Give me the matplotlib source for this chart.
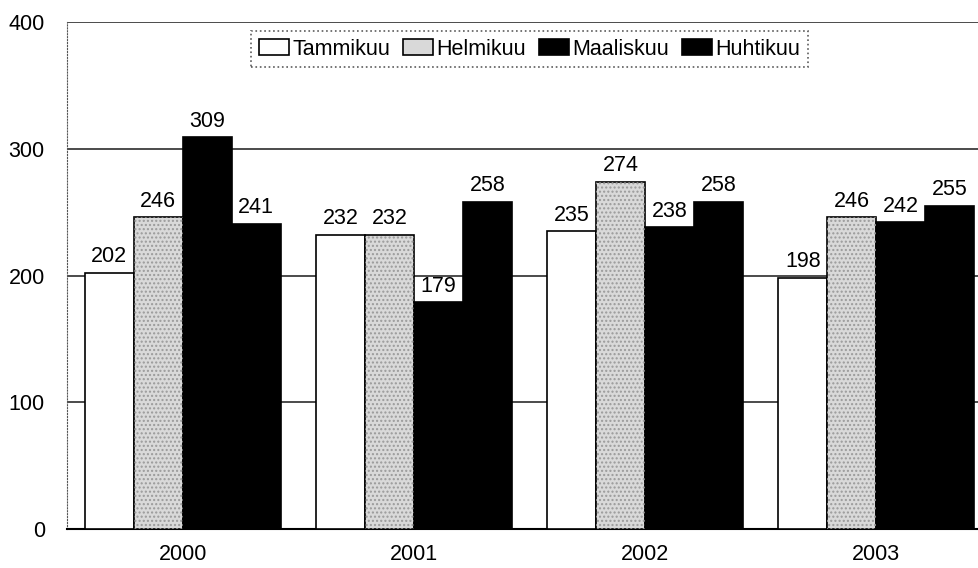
import numpy as np
import matplotlib.pyplot as plt

years = ['2000', '2001', '2002', '2003']
months = ['Tammikuu', 'Helmikuu', 'Maaliskuu', 'Huhtikuu']
tammikuu = [202, 232, 235, 198]
helmikuu = [246, 232, 274, 246]
maaliskuu = [309, 179, 238, 242]
huhtikuu = [241, 258, 258, 255]

plt.rcParams['font.family'] = ['Liberation Sans', 'DejaVu Sans']

fig = plt.figure(figsize=(9.79, 5.68), dpi=100)
# axes runs past the right edge like in the scanned original
ax = fig.add_axes([67 / 979, 39 / 568, 925 / 979, 507 / 568])

x = np.arange(len(years))
w = 0.212
series = [tammikuu, helmikuu, maaliskuu, huhtikuu]
faces = ['white', '#d9d9d9', 'black', 'black']

for i, (vals, fc, name) in enumerate(zip(series, faces, months)):
    pos = x + (i - 1.5) * w
    bars = ax.bar(pos, vals, w, color=fc, edgecolor='black', linewidth=1.2,
                  label=name, zorder=3)
    if name == 'Helmikuu':
        # speckled texture of the second series
        ax.bar(pos, vals, w, fill=False, hatch='....', edgecolor='#9a9a9a',
               linewidth=0, zorder=3.5)
    for b, v in zip(bars, vals):
        ax.annotate(str(v), (b.get_x() + b.get_width() / 2, v),
                    xytext=(0, 4), textcoords='offset points',
                    ha='center', va='bottom', fontsize=15.5, zorder=5)

ax.set_xlim(-0.5, 3.5)
ax.set_ylim(0, 400)
ax.set_yticks([0, 100, 200, 300, 400])
ax.set_xticks(x)
ax.set_xticklabels(years)
ax.tick_params(axis='x', length=0, pad=11, labelsize=15.5)
ax.tick_params(axis='y', length=0, pad=16, labelsize=15.5)

ax.yaxis.grid(True, color='#1a1a1a', linewidth=1.1, zorder=0)
ax.set_axisbelow(True)
for s in ['top', 'right']:
    ax.spines[s].set_visible(False)
ax.spines['left'].set_linestyle(':')
ax.spines['left'].set_color('#555555')
ax.spines['bottom'].set_linewidth(1.5)

handles, labels = ax.get_legend_handles_labels()
leg = ax.legend(handles[:4], labels[:4], loc='upper center',
                bbox_to_anchor=(0.5, 0.982), ncol=4, fontsize=15.5,
                frameon=True, fancybox=False, handlelength=1.4,
                handleheight=0.8, handletextpad=0.15, columnspacing=0.6,
                borderpad=0.35, borderaxespad=0)
leg.get_frame().set_edgecolor('#333333')
leg.get_frame().set_linestyle(':')
leg.get_frame().set_linewidth(1.2)

fig.savefig('out.png', dpi=100)
